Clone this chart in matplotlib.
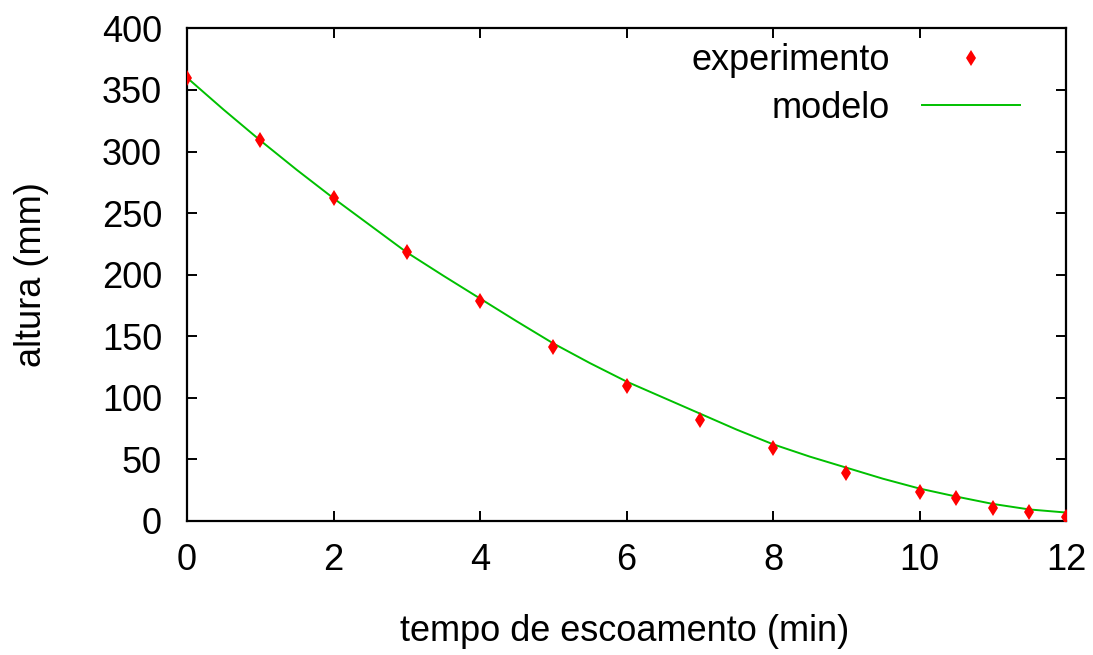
import matplotlib
matplotlib.use("Agg")
import matplotlib.pyplot as plt

# experimental data: outflow time (min) vs height (mm)
t_exp = [0, 1, 2, 3, 4, 5, 6, 7, 8, 9, 10, 10.5, 11, 11.5, 12]
h_exp = [360, 309, 262, 218, 178.5, 141, 109.5, 81.5, 59, 39, 23.5, 18, 10.5, 7, 3]

# model curve, every half minute
t_mod = [0, 0.5, 1, 1.5, 2, 2.5, 3, 3.5, 4, 4.5, 5, 5.5, 6, 6.5, 7, 7.5,
         8, 8.5, 9, 9.5, 10, 10.5, 11, 11.5, 12]
h_mod = [360, 334, 309, 285, 262, 240, 218, 199, 180.5, 162, 144, 128, 113,
         100, 87, 74, 62, 52, 43, 34, 26, 19.5, 13.5, 9, 6.5]

x_ticks = [0, 2, 4, 6, 8, 10, 12]
y_ticks = [0, 50, 100, 150, 200, 250, 300, 350, 400]

plt.rcParams["font.family"] = ["Liberation Sans", "DejaVu Sans"]
FS = 26

fig = plt.figure(figsize=(10.93, 6.55), dpi=100)
ax = fig.add_axes([0.1711, 0.2053, 0.8042, 0.7512])

ax.plot(t_exp, h_exp, linestyle="none", marker="d", markersize=8.5,
        color="#ff0000", markeredgewidth=0, label="experimento", zorder=3)
ax.plot(t_mod, h_mod, color="#00c000", linewidth=1.4, label="modelo", zorder=2)

ax.set_xlim(0, 12)
ax.set_ylim(0, 400)
ax.set_xticks(x_ticks)
ax.set_yticks(y_ticks)
ax.tick_params(axis="both", direction="in", length=7, width=1.4,
               top=True, right=True, labelsize=FS)
ax.tick_params(axis="x", pad=16)
ax.tick_params(axis="y", pad=18)
for sp in ax.spines.values():
    sp.set_linewidth(1.6)

ax.set_xlabel("tempo de escoamento (min)", fontsize=FS)
ax.set_ylabel("altura (mm)", fontsize=FS)
ax.xaxis.set_label_coords(0.498, -0.19)
ax.yaxis.set_label_coords(-0.157, 0.5)

ax.legend(loc="upper right", bbox_to_anchor=(0.9332, 0.934),
          bbox_transform=fig.transFigure, frameon=False, fontsize=FS,
          markerfirst=False, handlelength=2.7, handletextpad=0.9,
          labelspacing=0.35, borderpad=0, borderaxespad=0, numpoints=1)

fig.savefig("out.png", dpi=100)
